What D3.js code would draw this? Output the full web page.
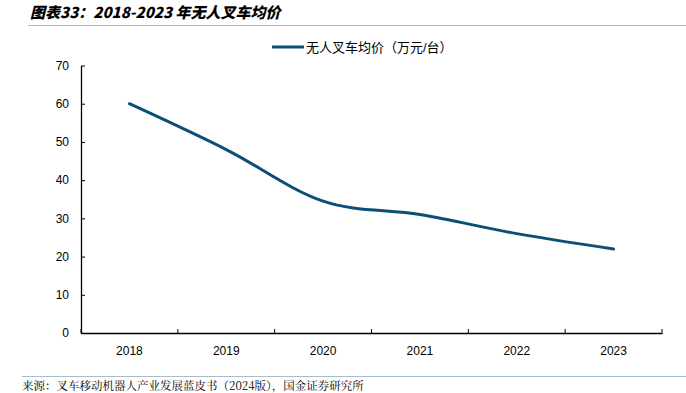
<!DOCTYPE html>
<html><head><meta charset="utf-8">
<script src="https://cdn.jsdelivr.net/npm/d3@7"></script>
<style>body{margin:0;background:#fff}svg{display:block}</style>
</head><body>
<script>
const categories = ["2018","2019","2020","2021","2022","2023"];
const values = [60, 48, 34.5, 31, 26, 22];
const yTicks = [0,10,20,30,40,50,60,70];
const seriesName = "无人叉车均价（万元/台）";
const title = "图表33：2018-2023 年无人叉车均价";
const source = "来源：叉车移动机器人产业发展蓝皮书（2024版），国金证券研究所";

const W = 686, H = 393;
const svg = d3.select("body").append("svg").attr("width", W).attr("height", H);
const font = "Arial, 'Liberation Sans', 'Noto Sans CJK SC', sans-serif";

svg.append("text").attr("x", 30).attr("y", 18).text(title)
  .attr("font-family", "'Noto Sans CJK SC', sans-serif").attr("font-weight", "900")
  .attr("font-style", "italic").attr("font-size", 15).attr("fill", "#000");
svg.append("line").attr("x1", 28).attr("x2", 686).attr("y1", 25.5).attr("y2", 25.5)
  .attr("stroke", "#a9bccc").attr("stroke-width", 1);

const x = d3.scaleBand().domain(categories).range([81, 662]);
const y = d3.scaleLinear().domain([0, 70]).range([333, 65.5]);

// axes
const yAxis = svg.append("g").attr("transform", "translate(81,0)")
  .call(d3.axisLeft(y).tickValues(yTicks).tickSize(-4).tickPadding(12).tickSizeOuter(0));
const xAxis = svg.append("g").attr("transform", "translate(0,333)")
  .call(d3.axisBottom(x).tickSize(0).tickPadding(13));
[yAxis, xAxis].forEach(g => {
  g.selectAll("text").attr("font-family", font).attr("font-size", 12).attr("fill", "#000");
  g.selectAll("path,line").attr("stroke", "#000");
  g.select(".domain").attr("stroke-width", 1.3);
});
const bounds = categories.map(c => x(c)).concat([x.range()[1]]);
svg.append("g").selectAll("line").data(bounds).join("line")
  .attr("x1", d => d).attr("x2", d => d).attr("y1", 333).attr("y2", 329)
  .attr("stroke", "#000");

// line
const line = d3.line().x((d, i) => x(categories[i]) + x.bandwidth() / 2).y(d => y(d))
  .curve(d3.curveCatmullRom.alpha(0));
svg.append("path").datum(values).attr("d", line).attr("fill", "none")
  .attr("stroke", "#0b4f75").attr("stroke-width", 3).attr("stroke-linecap", "round");

// legend
svg.append("line").attr("x1", 272).attr("x2", 304).attr("y1", 47).attr("y2", 47)
  .attr("stroke", "#0b4f75").attr("stroke-width", 3);
svg.append("text").attr("x", 306).attr("y", 51.5).text(seriesName)
  .attr("font-family", font).attr("font-size", 13).attr("fill", "#000");

// footer
svg.append("line").attr("x1", 22).attr("x2", 686).attr("y1", 376.5).attr("y2", 376.5)
  .attr("stroke", "#a9bccc").attr("stroke-width", 1);
svg.append("text").attr("x", 22).attr("y", 390).text(source)
  .attr("font-family", "'Noto Serif CJK SC', 'Noto Sans CJK SC', serif").attr("font-size", 11.5).attr("fill", "#000");
</script>
</body></html>
